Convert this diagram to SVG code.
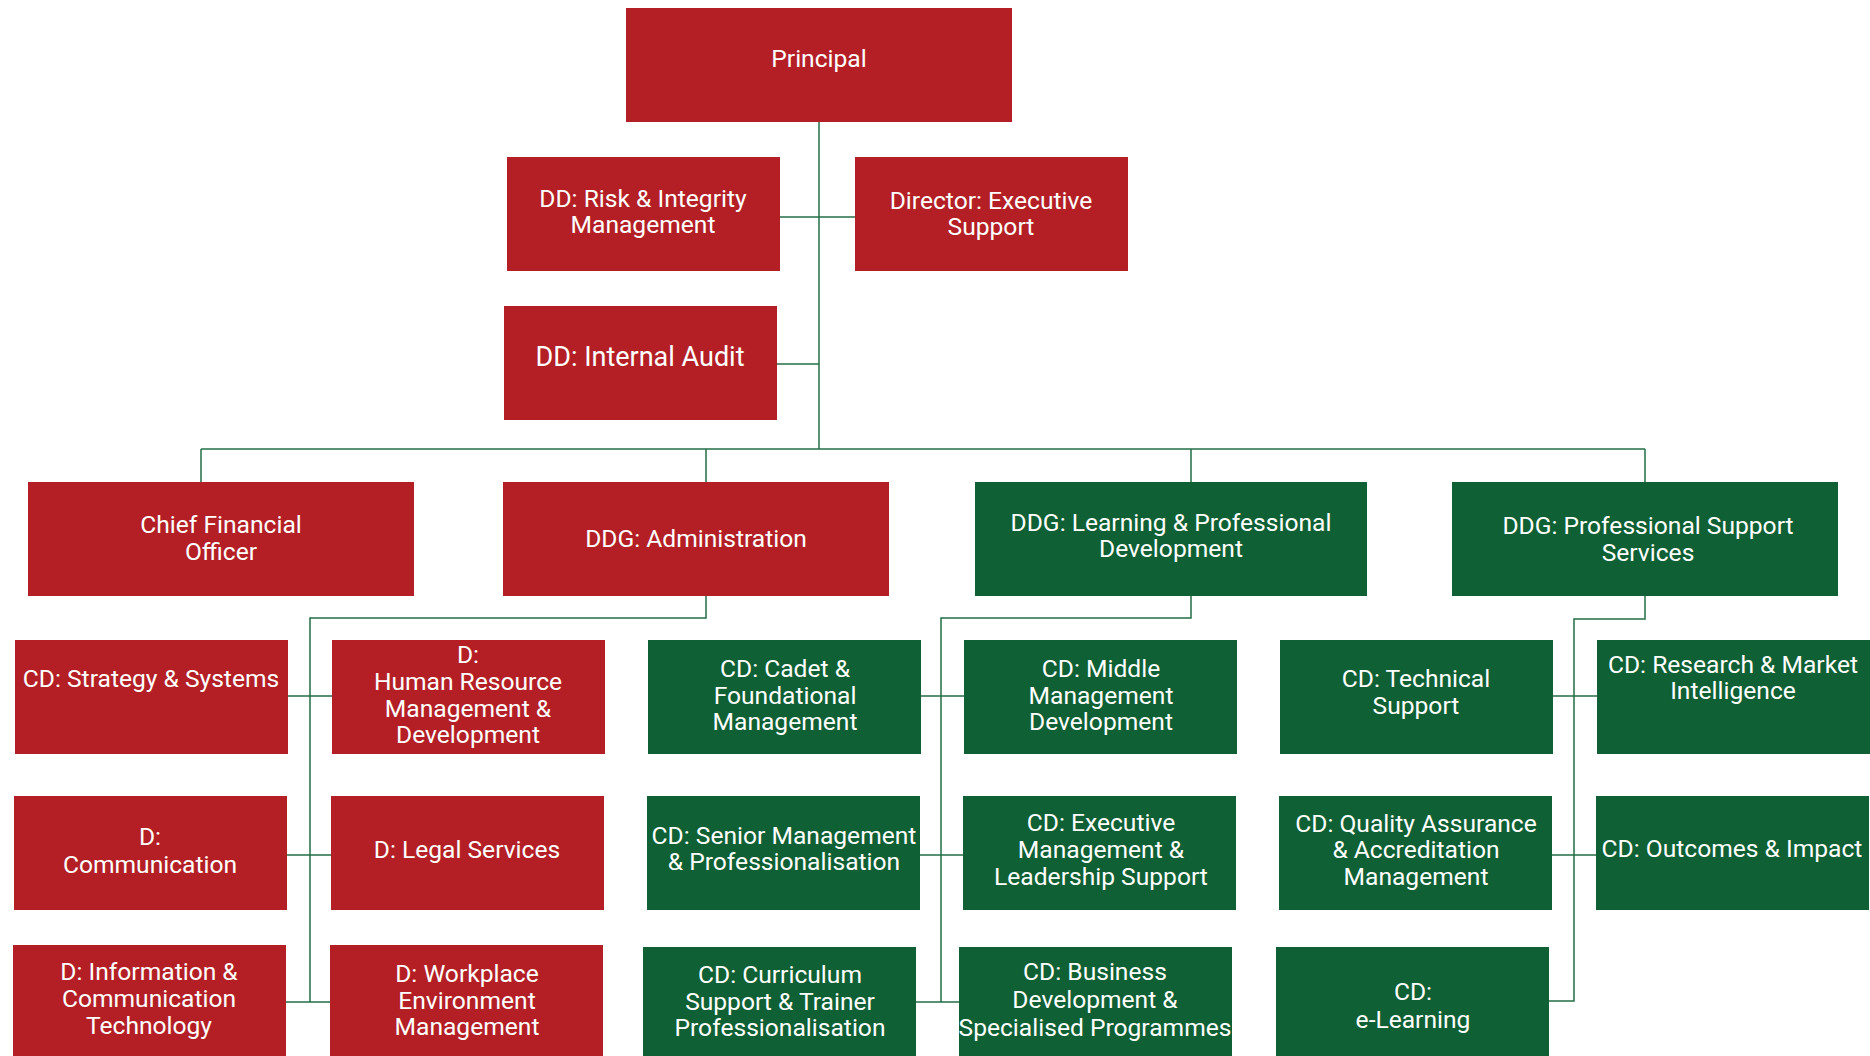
<svg xmlns="http://www.w3.org/2000/svg" width="1870" height="1056" viewBox="0 0 1870 1056">
<style>
.r{fill:#B31F25}
.g{fill:#0F6034}
text{font-family:Roboto,"Liberation Sans",sans-serif;font-size:24.6px;fill:#FFFFFF;text-anchor:middle}
.big{font-size:27px}
.c{fill:none;stroke:#236F45;stroke-width:1.5}
</style>
<rect width="1870" height="1056" fill="#FFFFFF"/>
<g id="connectors">
<path class="c" d="M819,122V449"/>
<path class="c" d="M780,217H855"/>
<path class="c" d="M777,364H819"/>
<path class="c" d="M201,449H1645"/>
<path class="c" d="M201,449V482M706,449V482M1191,449V482M1645,449V482"/>
<path class="c" d="M706,596V618H310V1002"/>
<path class="c" d="M288,696H332M287,855H331M286,1002H330"/>
<path class="c" d="M1191,596V618H941V1002"/>
<path class="c" d="M921,696H964M920,855H963M916,1002H959"/>
<path class="c" d="M1645,596V619H1574V1001H1549"/>
<path class="c" d="M1553,696H1597M1552,855H1596"/>
</g>
<g id="principal"><rect class="r" x="626" y="8" width="386" height="114"/><text x="819" y="67">Principal</text></g>
<g id="dd-risk"><rect class="r" x="507" y="157" width="273" height="114"/><text x="643" y="207">DD: Risk &amp; Integrity</text><text x="643" y="233">Management</text></g>
<g id="director-exec"><rect class="r" x="855" y="157" width="273" height="114"/><text x="991" y="209">Director: Executive</text><text x="991" y="235">Support</text></g>
<g id="dd-audit"><rect class="r" x="504" y="306" width="273" height="114"/><text class="big" x="640" y="366">DD: Internal Audit</text></g>
<g id="cfo"><rect class="r" x="28" y="482" width="386" height="114"/><text x="221" y="533">Chief Financial</text><text x="221" y="560">Officer</text></g>
<g id="ddg-admin"><rect class="r" x="503" y="482" width="386" height="114"/><text x="696" y="547">DDG: Administration</text></g>
<g id="ddg-lpd"><rect class="g" x="975" y="482" width="392" height="114"/><text x="1171" y="531">DDG: Learning &amp; Professional</text><text x="1171" y="557">Development</text></g>
<g id="ddg-pss"><rect class="g" x="1452" y="482" width="386" height="114"/><text x="1648" y="534">DDG: Professional Support</text><text x="1648" y="561">Services</text></g>
<g id="cd-strategy"><rect class="r" x="15" y="640" width="273" height="114"/><text x="151" y="687">CD: Strategy &amp; Systems</text></g>
<g id="d-hr"><rect class="r" x="332" y="640" width="273" height="114"/><text x="468" y="663">D:</text><text x="468" y="690">Human Resource</text><text x="468" y="717">Management &amp;</text><text x="468" y="743">Development</text></g>
<g id="d-comm"><rect class="r" x="14" y="796" width="273" height="114"/><text x="150" y="845">D:</text><text x="150" y="873">Communication</text></g>
<g id="d-legal"><rect class="r" x="331" y="796" width="273" height="114"/><text x="467" y="858">D: Legal Services</text></g>
<g id="d-ict"><rect class="r" x="13" y="945" width="273" height="115"/><text x="149" y="980">D: Information &amp;</text><text x="149" y="1007">Communication</text><text x="149" y="1034">Technology</text></g>
<g id="d-workplace"><rect class="r" x="330" y="945" width="273" height="115"/><text x="467" y="982">D: Workplace</text><text x="467" y="1009">Environment</text><text x="467" y="1035">Management</text></g>
<g id="cd-cadet"><rect class="g" x="648" y="640" width="273" height="114"/><text x="785" y="677">CD: Cadet &amp;</text><text x="785" y="704">Foundational</text><text x="785" y="730">Management</text></g>
<g id="cd-senior"><rect class="g" x="647" y="796" width="273" height="114"/><text x="784" y="844">CD: Senior Management</text><text x="784" y="870">&amp; Professionalisation</text></g>
<g id="cd-curriculum"><rect class="g" x="643" y="947" width="273" height="113"/><text x="780" y="983">CD: Curriculum</text><text x="780" y="1010">Support &amp; Trainer</text><text x="780" y="1036">Professionalisation</text></g>
<g id="cd-middle"><rect class="g" x="964" y="640" width="273" height="114"/><text x="1101" y="677">CD: Middle</text><text x="1101" y="704">Management</text><text x="1101" y="730">Development</text></g>
<g id="cd-exec-mgmt"><rect class="g" x="963" y="796" width="273" height="114"/><text x="1101" y="831">CD: Executive</text><text x="1101" y="858">Management &amp;</text><text x="1101" y="885">Leadership Support</text></g>
<g id="cd-business"><rect class="g" x="959" y="947" width="273" height="113"/><text x="1095" y="980">CD: Business</text><text x="1095" y="1008">Development &amp;</text><text x="1095" y="1036">Specialised Programmes</text></g>
<g id="cd-technical"><rect class="g" x="1280" y="640" width="273" height="114"/><text x="1416" y="687">CD: Technical</text><text x="1416" y="714">Support</text></g>
<g id="cd-qa"><rect class="g" x="1279" y="796" width="273" height="114"/><text x="1416" y="832">CD: Quality Assurance</text><text x="1416" y="858">&amp; Accreditation</text><text x="1416" y="885">Management</text></g>
<g id="cd-elearning"><rect class="g" x="1276" y="947" width="273" height="113"/><text x="1413" y="1000">CD:</text><text x="1413" y="1028">e-Learning</text></g>
<g id="cd-research"><rect class="g" x="1597" y="640" width="273" height="114"/><text x="1733" y="673">CD: Research &amp; Market</text><text x="1733" y="699">Intelligence</text></g>
<g id="cd-outcomes"><rect class="g" x="1596" y="796" width="273" height="114"/><text x="1732" y="857">CD: Outcomes &amp; Impact</text></g>
</svg>
